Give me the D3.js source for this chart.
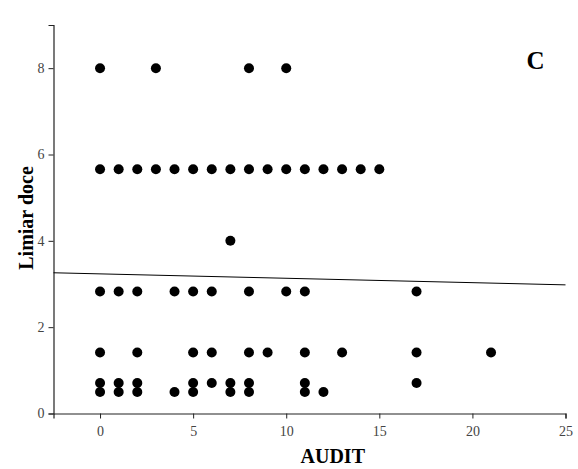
<!DOCTYPE html>
<html><head><meta charset="utf-8">
<script src="https://cdn.jsdelivr.net/npm/d3@7"></script>
<style>body{margin:0;background:#fff}svg{display:block}</style>
</head><body>
<script>
// data: AUDIT score (x) vs Limiar doce (y)
const audit = [0,3,8,10, 0,1,2,3,4,5,6,7,8,9,10,11,12,13,14,15, 7,
  0,1,2,4,5,6,8,10,11,17, 0,2,5,6,8,9,11,13,17,21,
  0,1,2,5,6,7,8,11,17, 0,1,2,4,5,7,8,11,12];
const limiar = [8,8,8,8, 5.657,5.657,5.657,5.657,5.657,5.657,5.657,5.657,5.657,5.657,5.657,5.657,5.657,5.657,5.657,5.657, 4,
  2.828,2.828,2.828,2.828,2.828,2.828,2.828,2.828,2.828,2.828, 1.414,1.414,1.414,1.414,1.414,1.414,1.414,1.414,1.414,1.414,
  0.707,0.707,0.707,0.707,0.707,0.707,0.707,0.707,0.707, 0.5,0.5,0.5,0.5,0.5,0.5,0.5,0.5,0.5];
const fitX = [-2.5, 25];
const fitY = [3.26, 2.98];
const xTicks = [0,5,10,15,20,25];
const yTicks = [0,2,4,6,8];

const W = 578, H = 469;
const m = {left:53.5, right:12.5, top:25, bottom:55.5};
const svg = d3.select("body").append("svg").attr("width",W).attr("height",H);
const x = d3.scaleLinear().domain([-2.5,25]).range([m.left, W-m.right]);
const y = d3.scaleLinear().domain([0,9]).range([H-m.bottom, m.top]);

const font = "'Liberation Serif','Times New Roman',serif";
const xa = svg.append("g").attr("transform",`translate(0,${H-m.bottom})`)
  .call(d3.axisBottom(x).tickValues(xTicks).tickSize(5).tickPadding(8));
const ya = svg.append("g").attr("transform",`translate(${m.left},0)`)
  .call(d3.axisLeft(y).tickValues(yTicks).tickSize(5).tickPadding(4));
[xa,ya].forEach(a=>{
  a.select(".domain").attr("stroke","#222").attr("stroke-width",1.2);
  a.selectAll(".tick line").attr("stroke","#222");
  a.selectAll("text").attr("font-family",font).attr("font-size",14).attr("fill","#444");
});

svg.append("line")
  .attr("x1",x(fitX[0])).attr("y1",y(fitY[0]))
  .attr("x2",x(fitX[1])).attr("y2",y(fitY[1]))
  .attr("stroke","#000").attr("stroke-width",1);

svg.append("g").selectAll("circle").data(audit.map((a,i)=>[a,limiar[i]]))
  .join("circle").attr("cx",d=>x(d[0])).attr("cy",d=>y(d[1])).attr("r",5).attr("fill","#000");

svg.append("text").attr("x",x(12.5)).attr("y",463).attr("text-anchor","middle")
  .attr("font-family",font).attr("font-weight","bold").attr("font-size",20).text("AUDIT");
svg.append("text").attr("transform",`translate(33,218) rotate(-90)`).attr("text-anchor","middle")
  .attr("font-family",font).attr("font-weight","bold").attr("font-size",20).text("Limiar doce");
svg.append("text").attr("x",535.5).attr("y",69).attr("text-anchor","middle")
  .attr("font-family",font).attr("font-weight","bold").attr("font-size",25).text("C");
</script>
</body></html>
